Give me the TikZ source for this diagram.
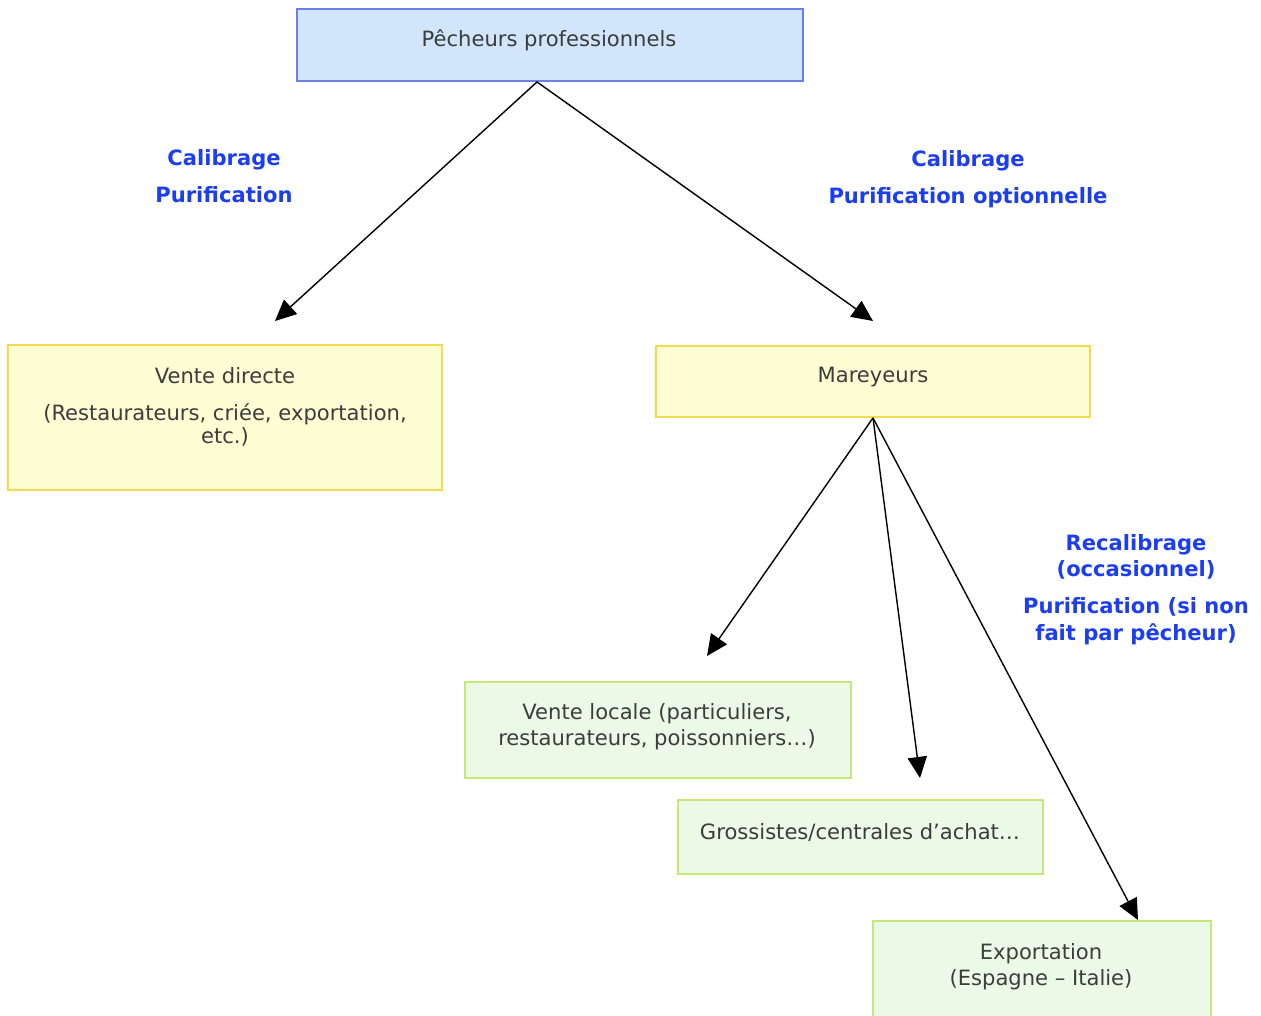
\documentclass[tikz,border=0pt]{standalone}
\usepackage{fontspec}
\setmainfont{DejaVu Sans}
\usetikzlibrary{arrows.meta}
\definecolor{boxblue}{HTML}{D2E6FB}
\definecolor{boxblueline}{HTML}{6A7FE8}
\definecolor{boxyellow}{HTML}{FFFDD3}
\definecolor{boxyellowline}{HTML}{F5DA4E}
\definecolor{boxgreen}{HTML}{EBFAE6}
\definecolor{boxgreenline}{HTML}{C6E879}
\definecolor{labelblue}{HTML}{1D3EF0}
\definecolor{textgray}{HTML}{3C3C3C}
\begin{document}
\begin{tikzpicture} [x=0.02cm,y=-0.02cm,
	box/.style={shape=rectangle,line width=1.1pt},
	bluebox/.style={box,draw=boxblueline,fill=boxblue},
	yellowbox/.style={box,draw=boxyellowline,fill=boxyellow},
	greenbox/.style={box,draw=boxgreenline,fill=boxgreen},
	boxtext/.style={text=textgray,font=\fontsize{12}{15}\selectfont,align=center,inner sep=0pt},
	flowlabel/.style={text=labelblue,font=\bfseries\fontsize{12}{15}\selectfont,align=center,inner sep=0pt},
	flow/.style={-{Triangle[length=12pt,width=11pt]},line width=0.8pt}]
	\clip (0,0) rectangle (1261,1016);

	\node (pecheurs) at (550,45)[bluebox,minimum width=10.12cm,minimum height=1.44cm] {};
	\node (pecheursText) at (549,40.5)[boxtext] {Pêcheurs professionnels};

	\node (directe) at (225,417.5)[yellowbox,minimum width=8.68cm,minimum height=2.9cm] {};
	\node (directeText) at (225,407)[boxtext] {Vente directe\\[6pt](Restaurateurs, criée, exportation,\\[-1.5pt]etc.)};

	\node (mareyeurs) at (873,381.5)[yellowbox,minimum width=8.68cm,minimum height=1.42cm] {};
	\node (mareyeursText) at (873,377)[boxtext] {Mareyeurs};

	\node (locale) at (658,730)[greenbox,minimum width=7.72cm,minimum height=1.92cm] {};
	\node (localeText) at (657,726.5)[boxtext] {Vente locale (particuliers,\\restaurateurs, poissonniers\dots)};

	\node (grossistes) at (860.5,837)[greenbox,minimum width=7.3cm,minimum height=1.48cm] {};
	\node (grossistesText) at (860,832)[boxtext] {Grossistes/centrales d’achat\dots};

	\node (export) at (1042,976)[greenbox,minimum width=6.76cm,minimum height=2.2cm] {};
	\node (exportText) at (1041,967)[boxtext] {Exportation\\(Espagne -- Italie)};

	\coordinate (directeIn) at (275,321);
	\coordinate (mareyeursIn) at (873,321);
	\coordinate (localeIn) at (707,656);
	\coordinate (grossistesIn) at (920,778);

	\draw[flow] ([xshift=-0.26cm]pecheurs.south) -- (directeIn);
	\draw[flow] ([xshift=-0.26cm]pecheurs.south) -- (mareyeursIn);
	\draw[flow] (mareyeurs.south) -- (localeIn);
	\draw[flow] (mareyeurs.south) -- (grossistesIn);
	\draw[flow] (mareyeurs.south) -- ([xshift=1.92cm]export.north);

	\node (leftLabel) at (224,176.5)[flowlabel] {Calibrage\\[6pt]Purification};
	\node (rightLabel) at (968,179)[flowlabel] {Calibrage\\[6pt]Purification optionnelle};
	\node (exportLabel) at (1136,589.5)[flowlabel] {Recalibrage\\(occasionnel)\\[6pt]Purification (si non\\fait par pêcheur)};
\end{tikzpicture}
\end{document}
